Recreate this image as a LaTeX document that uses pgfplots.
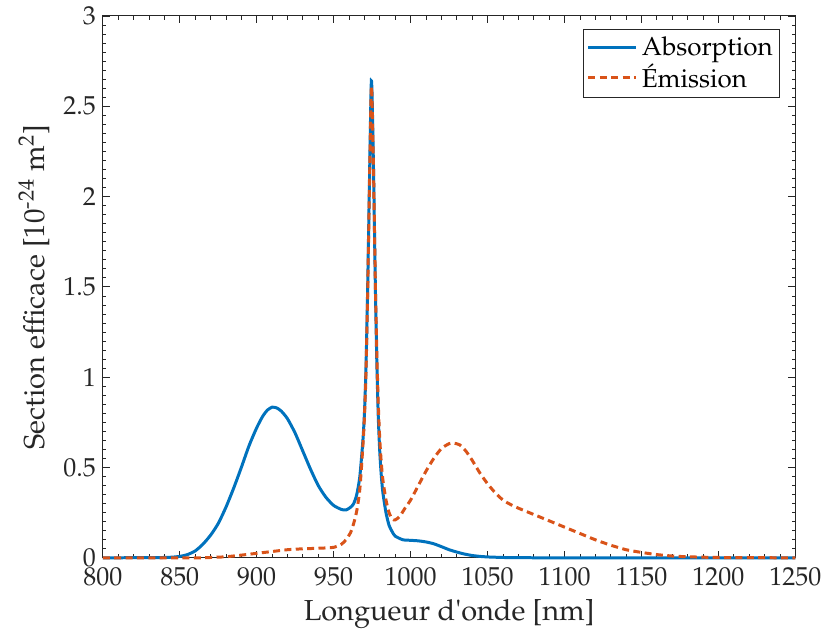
\documentclass[border=0pt]{standalone}
\usepackage[T1]{fontenc}
\usepackage{mathpazo}
\usepackage{pgfplots}
\pgfplotsset{compat=1.18}
\definecolor{mblue}{RGB}{0,114,189}
\definecolor{morange}{RGB}{217,83,25}
\definecolor{axgray}{RGB}{38,38,38}
\pgfplotstableread{
x y
800 0
840 0.002
850 0.008
855 0.018
860 0.038
865 0.075
870 0.125
875 0.19
880 0.28
885 0.385
890 0.50
895 0.62
900 0.72
904 0.785
907 0.818
910 0.834
913 0.830
916 0.812
920 0.77
925 0.69
930 0.59
935 0.49
940 0.40
945 0.335
950 0.29
955 0.268
958 0.265
961 0.28
963 0.30
965 0.35
967 0.45
969 0.65
970 0.8
971 1.05
972 1.45
973 1.95
974 2.45
974.5 2.64
975 2.55
976 2.1
977 1.55
978 1.1
979 0.78
980 0.58
981 0.45
982 0.36
984 0.25
986 0.18
988 0.145
990 0.12
995 0.10
1000 0.097
1005 0.094
1010 0.088
1015 0.078
1020 0.062
1025 0.045
1030 0.032
1035 0.021
1040 0.013
1045 0.008
1050 0.005
1060 0.002
1070 0.001
1100 0
1250 0
}\absorption
\pgfplotstableread{
x y
800 0
860 0
870 0.002
880 0.006
890 0.015
900 0.025
910 0.035
920 0.045
930 0.05
940 0.053
950 0.058
955 0.075
958 0.10
961 0.14
963 0.19
965 0.26
967 0.38
969 0.62
970 0.78
971 1.02
972 1.42
973 1.92
974 2.42
974.5 2.61
975 2.52
976 2.1
977 1.57
978 1.15
979 0.85
980 0.65
981 0.52
982 0.43
984 0.32
986 0.25
988 0.215
990 0.21
993 0.23
996 0.27
1000 0.32
1005 0.40
1010 0.48
1015 0.55
1020 0.605
1025 0.632
1028 0.635
1032 0.625
1036 0.59
1040 0.54
1045 0.47
1050 0.41
1055 0.36
1060 0.32
1065 0.295
1070 0.275
1080 0.24
1090 0.205
1100 0.17
1110 0.135
1120 0.10
1130 0.07
1140 0.045
1150 0.03
1160 0.018
1170 0.01
1180 0.006
1200 0.002
1250 0
}\emission
\begin{document}
\begin{tikzpicture}
\begin{axis}[
  scale only axis, width=347pt, height=271.5pt,
  xmin=800, xmax=1250, ymin=0, ymax=3,
  xtick={800,850,...,1250}, ytick={0,0.5,1,1.5,2,2.5,3},
  yticklabels={0,0.5,1,1.5,2,2.5,3},
  minor x tick num=4, minor y tick num=9,
  major tick length=3.5pt, minor tick length=1.8pt,
  axis line style={axgray, line width=0.5pt},
  every tick/.style={axgray, line width=0.4pt},
  tick label style={font=\fontsize{13}{15}\selectfont, text=axgray},
  xticklabel style={yshift=-1.2pt},
  label style={font=\fontsize{14.5}{17}\selectfont, text=axgray},
  /pgf/number format/1000 sep={},
  xlabel={Longueur d\textquotesingle onde [nm]},
  ylabel={Section efficace [10\textsuperscript{-24} m\textsuperscript{2}]},
  legend style={at={(0.978,0.976)}, anchor=north east, draw=axgray, line width=0.5pt,
    font=\fontsize{13}{15}\selectfont, legend cell align=left, inner sep=1.5pt, row sep=-1pt},
  legend image code/.code={\draw[#1] (0pt,0pt) -- (24pt,0pt);},
  clip=false,
  after end axis/.code={\path (rel axis cs:-0.1484,-0.1492) rectangle (rel axis cs:1.0447,1.0276);},
]
\addplot[mblue, line width=1.5pt, smooth, tension=0.4] table[x=x,y=y] {\absorption};
\addlegendentry{Absorption}
\addplot[morange, line width=1.5pt, dash pattern=on 3.5pt off 2.2pt, smooth, tension=0.4] table[x=x,y=y] {\emission};
\addlegendentry{\'Emission}
\end{axis}
\end{tikzpicture}
\end{document}
